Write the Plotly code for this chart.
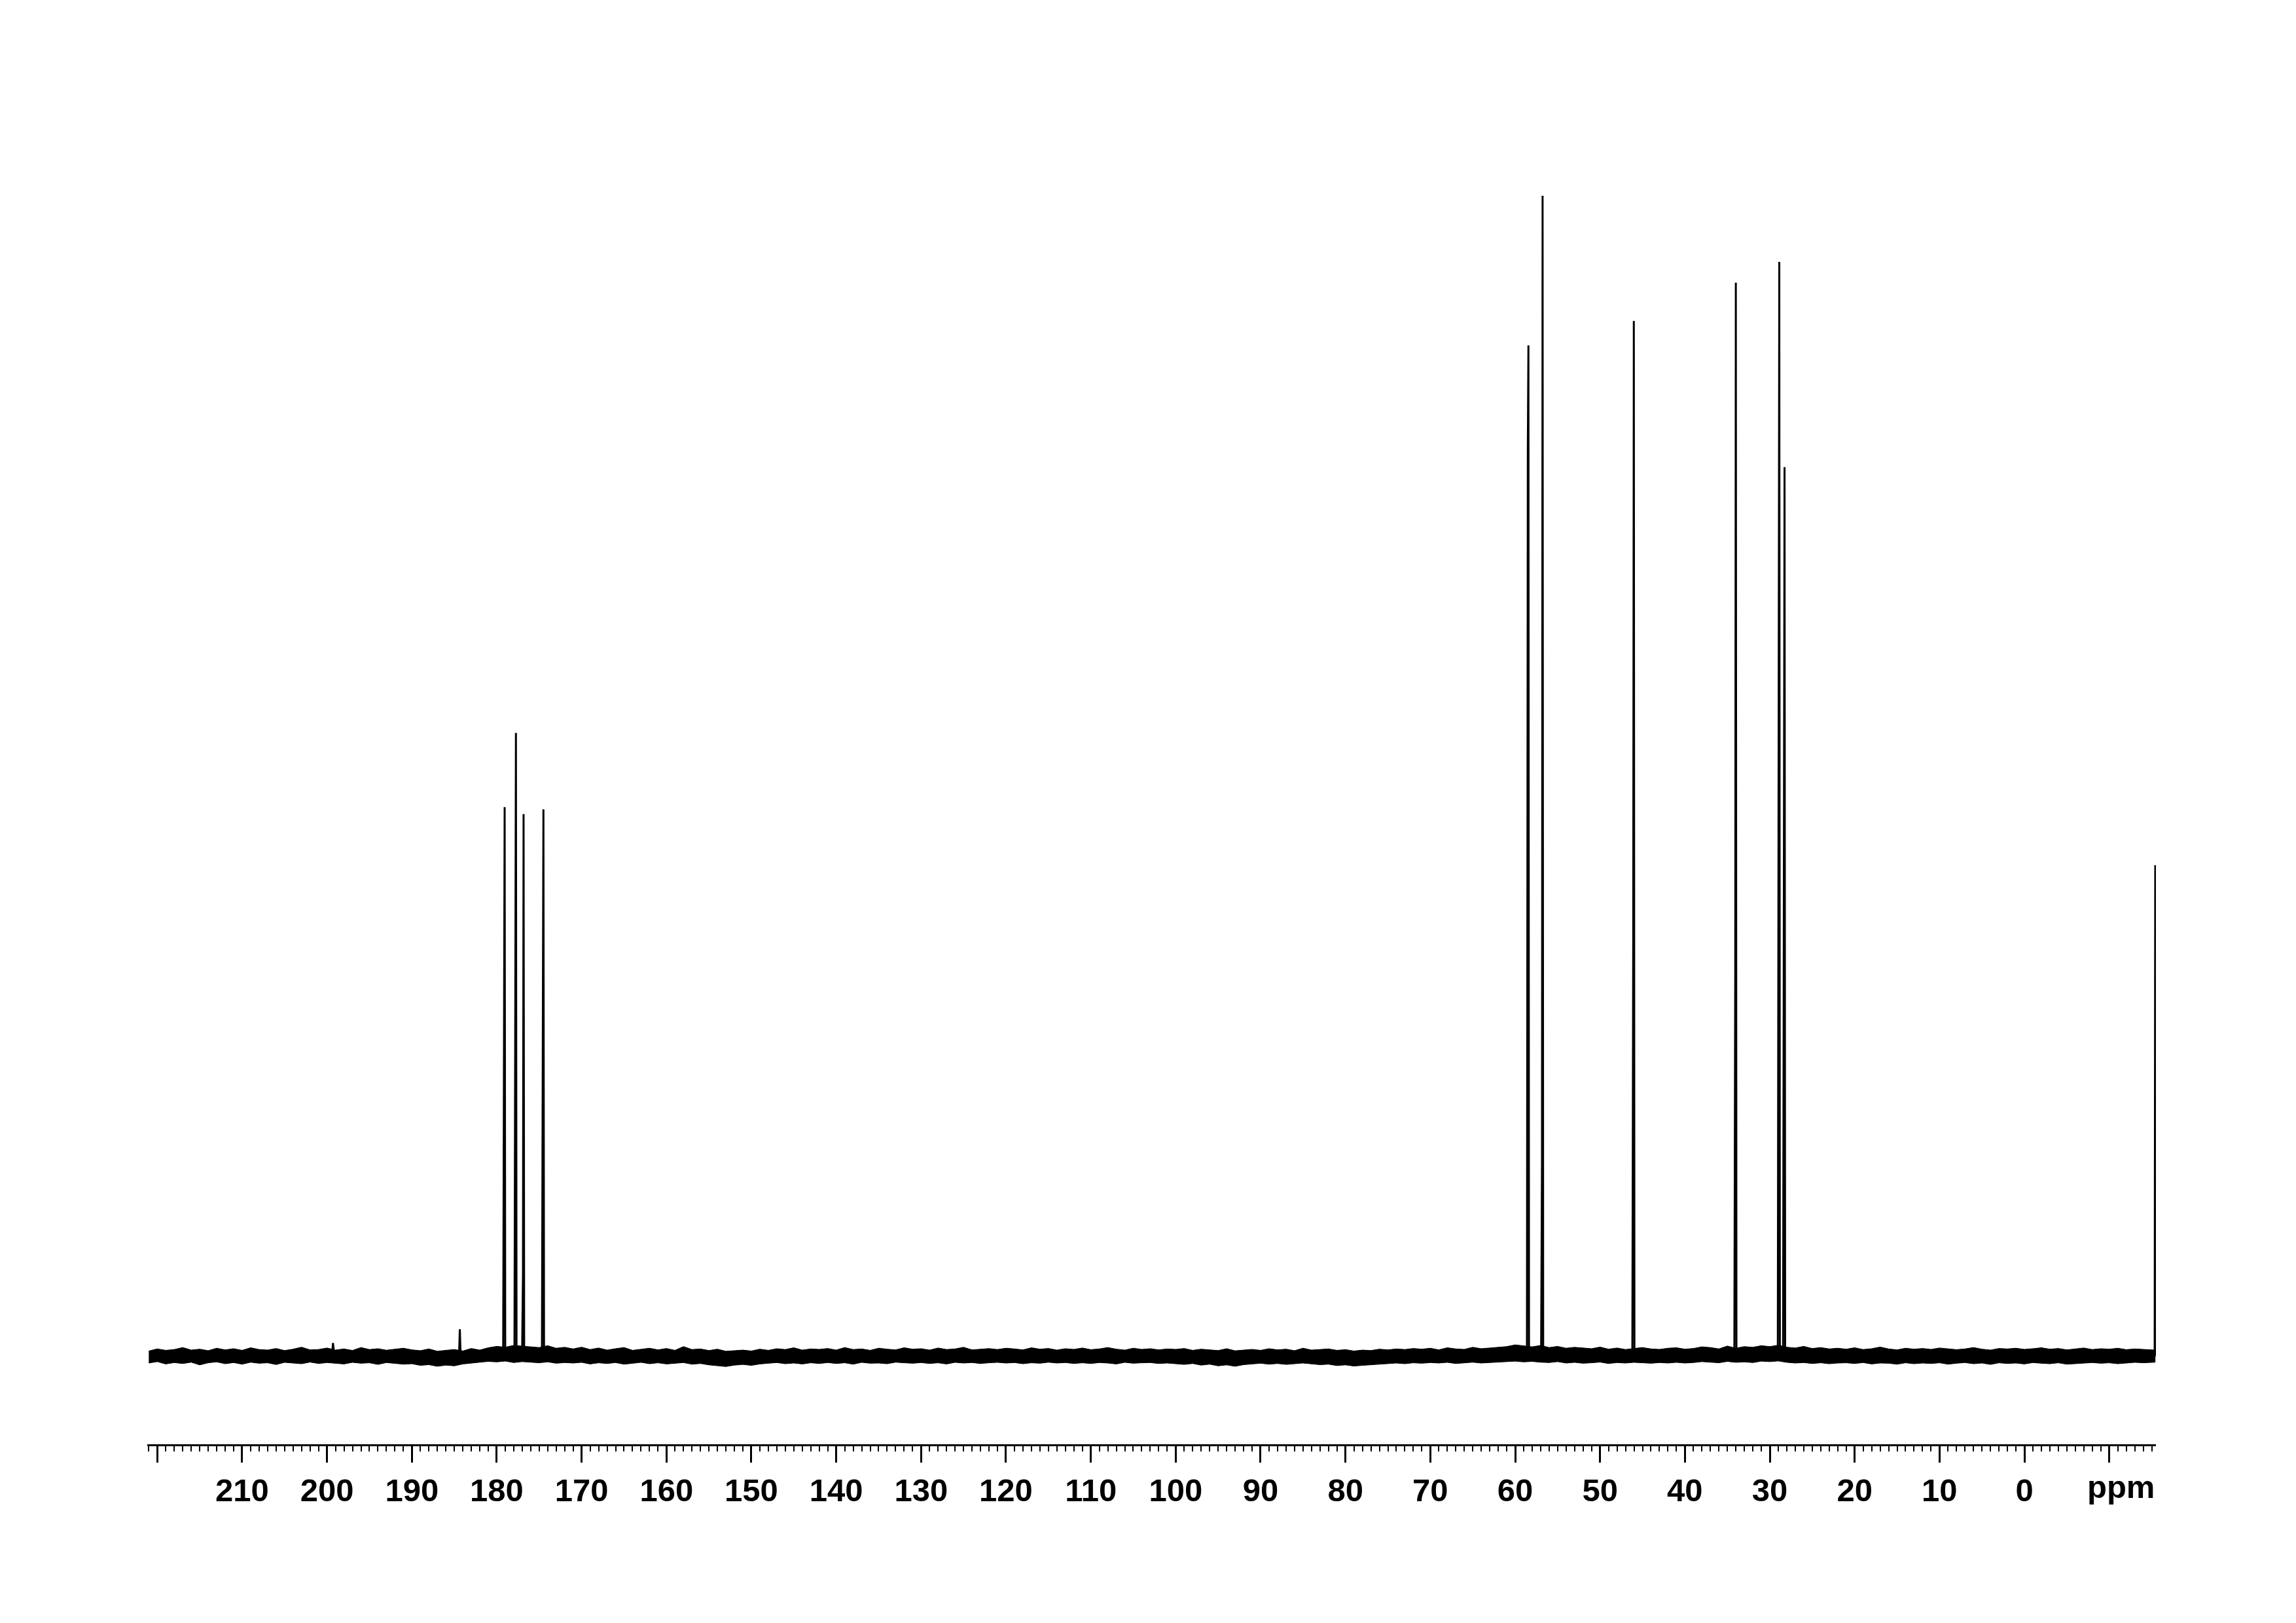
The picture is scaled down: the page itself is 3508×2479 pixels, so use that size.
import plotly.graph_objects as go

# ---------------- data ----------------
# chemical shift grid (ppm) for the noise envelope of the baseline
noise_ppm = [221, 220, 219, 218, 217, 216, 215, 214, 213, 212,
             211, 210, 209, 208, 207, 206, 205, 204, 203, 202,
             201, 200, 199, 198, 197, 196, 195, 194, 193, 192,
             191, 190, 189, 188, 187, 186, 185, 184, 183, 182,
             181, 180, 179, 178, 177, 176, 175, 174, 173, 172,
             171, 170, 169, 168, 167, 166, 165, 164, 163, 162,
             161, 160, 159, 158, 157, 156, 155, 154, 153, 152,
             151, 150, 149, 148, 147, 146, 145, 144, 143, 142,
             141, 140, 139, 138, 137, 136, 135, 134, 133, 132,
             131, 130, 129, 128, 127, 126, 125, 124, 123, 122,
             121, 120, 119, 118, 117, 116, 115, 114, 113, 112,
             111, 110, 109, 108, 107, 106, 105, 104, 103, 102,
             101, 100, 99, 98, 97, 96, 95, 94, 93, 92,
             91, 90, 89, 88, 87, 86, 85, 84, 83, 82,
             81, 80, 79, 78, 77, 76, 75, 74, 73, 72,
             71, 70, 69, 68, 67, 66, 65, 64, 63, 62,
             61, 60, 59, 58, 57, 56, 55, 54, 53, 52,
             51, 50, 49, 48, 47, 46, 45, 44, 43, 42,
             41, 40, 39, 38, 37, 36, 35, 34, 33, 32,
             31, 30, 29, 28, 27, 26, 25, 24, 23, 22,
             21, 20, 19, 18, 17, 16, 15, 14, 13, 12,
             11, 10, 9, 8, 7, 6, 5, 4, 3, 2,
             1, 0, -1, -2, -3, -4, -5, -6, -7, -8,
             -9, -10, -11, -12, -13, -14, -15.4]

noise_upper = [0.42, 0.60, 0.48, 0.55, 0.72, 0.50, 0.58, 0.45, 0.66, 0.52,
               0.62, 0.48, 0.70, 0.55, 0.50, 0.64, 0.46, 0.58, 0.75, 0.52,
               0.55, 0.68, 0.50, 0.60, 0.47, 0.72, 0.55, 0.62, 0.49, 0.58,
               0.66, 0.52, 0.45, 0.60, 0.40, 0.48, 0.55, 0.42, 0.64, 0.50,
               0.70, 0.82, 0.75, 0.90, 0.85, 0.78, 0.72, 0.88, 0.66, 0.74,
               0.60, 0.75, 0.55, 0.68, 0.50, 0.62, 0.72, 0.48, 0.58, 0.66,
               0.52, 0.64, 0.48, 0.80, 0.55, 0.60, 0.46, 0.58, 0.40, 0.44,
               0.50, 0.42, 0.58, 0.48, 0.62, 0.55, 0.70, 0.50, 0.60, 0.56,
               0.64, 0.50, 0.72, 0.55, 0.60, 0.48, 0.66, 0.58, 0.52, 0.70,
               0.58, 0.62, 0.50, 0.68, 0.55, 0.60, 0.74, 0.52, 0.57, 0.63,
               0.55, 0.66, 0.60, 0.52, 0.70, 0.58, 0.64, 0.50, 0.62, 0.56,
               0.68, 0.54, 0.60, 0.72, 0.58, 0.50, 0.66, 0.56, 0.62, 0.52,
               0.60, 0.56, 0.64, 0.48, 0.58, 0.52, 0.46, 0.62, 0.44, 0.50,
               0.56, 0.48, 0.62, 0.52, 0.58, 0.45, 0.66, 0.50, 0.55, 0.60,
               0.48, 0.54, 0.42, 0.50, 0.46, 0.58, 0.52, 0.60, 0.55, 0.64,
               0.58, 0.66, 0.52, 0.70, 0.60, 0.56, 0.74, 0.62, 0.68, 0.72,
               0.80, 0.95, 0.85, 0.78, 0.90, 0.72, 0.82, 0.66, 0.74, 0.70,
               0.62, 0.76, 0.58, 0.68, 0.55, 0.64, 0.72, 0.60, 0.56, 0.66,
               0.70, 0.58, 0.64, 0.78, 0.72, 0.60, 0.85, 0.66, 0.80, 0.74,
               0.88, 0.80, 0.92, 0.75, 0.68, 0.82, 0.64, 0.72, 0.60, 0.66,
               0.58, 0.70, 0.55, 0.62, 0.76, 0.60, 0.52, 0.66, 0.58, 0.64,
               0.56, 0.68, 0.62, 0.54, 0.60, 0.72, 0.58, 0.50, 0.64, 0.60,
               0.66, 0.56, 0.62, 0.70, 0.58, 0.64, 0.52, 0.60, 0.68, 0.55,
               0.62, 0.58, 0.66, 0.54, 0.60, 0.56, 0.50]

noise_lower = [-0.62, -0.50, -0.70, -0.58, -0.66, -0.55, -0.78, -0.60, -0.52, -0.68,
               -0.58, -0.72, -0.55, -0.64, -0.60, -0.75, -0.56, -0.62, -0.68, -0.54,
               -0.66, -0.58, -0.62, -0.70, -0.56, -0.64, -0.60, -0.74, -0.58, -0.66,
               -0.72, -0.68, -0.82, -0.76, -0.90, -0.80, -0.86, -0.70, -0.64, -0.55,
               -0.48, -0.52, -0.45, -0.58, -0.50, -0.55, -0.60, -0.52, -0.64, -0.58,
               -0.62, -0.56, -0.70, -0.60, -0.66, -0.58, -0.72, -0.62, -0.56, -0.68,
               -0.60, -0.70, -0.64, -0.58, -0.72, -0.66, -0.78, -0.85, -0.92, -0.80,
               -0.74, -0.82, -0.70, -0.64, -0.58, -0.68, -0.62, -0.70, -0.60, -0.66,
               -0.58, -0.66, -0.60, -0.72, -0.56, -0.64, -0.62, -0.68, -0.55, -0.60,
               -0.64, -0.58, -0.66, -0.60, -0.70, -0.56, -0.62, -0.58, -0.66, -0.60,
               -0.56, -0.62, -0.58, -0.68, -0.60, -0.64, -0.55, -0.62, -0.58, -0.66,
               -0.60, -0.66, -0.58, -0.62, -0.70, -0.56, -0.64, -0.60, -0.58, -0.66,
               -0.62, -0.68, -0.74, -0.66, -0.80, -0.72, -0.86, -0.78, -0.90, -0.76,
               -0.70, -0.64, -0.72, -0.66, -0.74, -0.68, -0.62, -0.70, -0.76, -0.72,
               -0.84, -0.78, -0.88, -0.82, -0.76, -0.70, -0.66, -0.62, -0.68, -0.60,
               -0.64, -0.58, -0.62, -0.56, -0.66, -0.60, -0.55, -0.62, -0.58, -0.54,
               -0.50, -0.46, -0.52, -0.48, -0.55, -0.58, -0.50, -0.62, -0.56, -0.64,
               -0.60, -0.54, -0.66, -0.58, -0.62, -0.56, -0.60, -0.64, -0.58, -0.62,
               -0.56, -0.62, -0.58, -0.50, -0.54, -0.60, -0.48, -0.56, -0.52, -0.58,
               -0.46, -0.50, -0.44, -0.56, -0.62, -0.58, -0.66, -0.60, -0.68, -0.62,
               -0.60, -0.66, -0.58, -0.70, -0.62, -0.64, -0.72, -0.60, -0.68, -0.62,
               -0.66, -0.60, -0.72, -0.64, -0.58, -0.68, -0.62, -0.74, -0.60, -0.66,
               -0.62, -0.70, -0.58, -0.64, -0.68, -0.60, -0.72, -0.66, -0.62, -0.58,
               -0.64, -0.60, -0.68, -0.62, -0.56, -0.60, -0.55]

# resolved signals: shift (ppm), peak height and height of the neighbouring point
peak_ppm = [199.3, 184.35, 179.07, 177.74, 176.84, 174.50,
            58.44, 56.77, 46.02, 34.00, 28.88, 28.26, -15.42]
peak_height = [1.1, 2.3, 47.3, 53.7, 46.7, 47.1,
               87.1, 100.0, 89.2, 92.5, 94.3, 76.6, 42.3]
peak_side = [0.4, 0.6, 33.0, 47.0, 7.0, 24.5,
             78.0, 17.0, 36.0, 33.0, 83.0, 47.0, 0.0]

# axis ticks
major_ticks = [220, 210, 200, 190, 180, 170, 160, 150, 140, 130, 120, 110,
               100, 90, 80, 70, 60, 50, 40, 30, 20, 10, 0, -10]
major_labels = ["", "210", "200", "190", "180", "170", "160", "150", "140",
                "130", "120", "110", "100", "90", "80", "70", "60", "50",
                "40", "30", "20", "10", "0", ""]
axis_unit = "ppm"

# ---------------- figure ----------------
fig = go.Figure()

# baseline noise band
fig.add_trace(go.Scatter(
    x=noise_ppm + noise_ppm[::-1],
    y=noise_upper + noise_lower[::-1],
    mode="lines", fill="toself", fillcolor="black",
    line=dict(color="black", width=1),
    hoverinfo="skip", showlegend=False,
))

# peaks
px, py = [], []
d = 0.07
for p, h, s in zip(peak_ppm, peak_height, peak_side):
    px += [p + 2.5 * d, p + d, p, p - d, p - 2.5 * d, None]
    py += [0.0, s, h, 0.6, 0.0, None]
fig.add_trace(go.Scatter(
    x=px, y=py, mode="lines",
    line=dict(color="black", width=3),
    connectgaps=False, hoverinfo="skip", showlegend=False,
))

tick_font = dict(family="Liberation Sans, Arial, Helvetica, sans-serif",
                 size=49, color="black", weight="bold")

fig.update_layout(
    width=3508, height=2479,
    margin=dict(l=217, r=222, t=191, b=281, pad=0),
    paper_bgcolor="white", plot_bgcolor="white",
    showlegend=False,
    xaxis=dict(
        range=[221.18, -15.5],
        showgrid=False, zeroline=False,
        showline=True, linecolor="black", linewidth=3,
        ticks="outside", ticklen=25, tickwidth=2.5, tickcolor="black",
        tickmode="array", tickvals=major_ticks, ticktext=major_labels,
        tickfont=tick_font,
        minor=dict(ticks="outside", ticklen=8, tickwidth=2,
                   tickcolor="black", dtick=1, tick0=0, showgrid=False),
    ),
    yaxis=dict(range=[-7.62, 105.64], visible=False, showgrid=False,
               zeroline=False),
)

fig.add_annotation(
    text=axis_unit, xref="paper", yref="paper",
    x=1.0, y=-0.0325, xanchor="right", yanchor="middle",
    showarrow=False, font=tick_font,
)

fig.write_html("out.html")
